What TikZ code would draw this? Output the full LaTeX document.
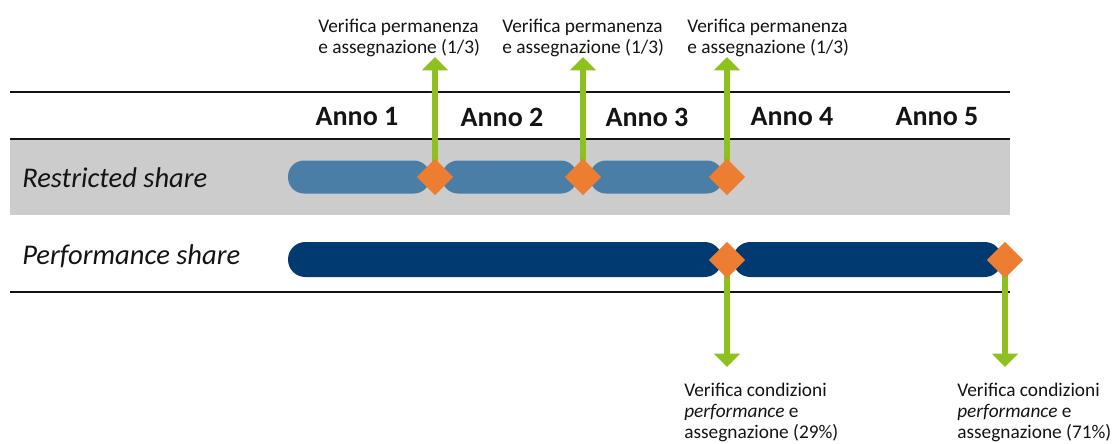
\documentclass[tikz,border=0pt]{standalone}
\usepackage{fontspec}
\setmainfont{Carlito}
\usetikzlibrary{shapes.geometric,arrows.meta}
\definecolor{bandgray}{RGB}{204,204,204}
\definecolor{rsblue}{RGB}{74,126,166}
\definecolor{psblue}{RGB}{0,58,112}
\definecolor{gateorange}{RGB}{237,125,49}
\definecolor{checkgreen}{RGB}{142,192,30}
\definecolor{inkgray}{RGB}{20,20,20}
\pgfdeclarelayer{band}
\pgfdeclarelayer{stem}
\pgfsetlayers{band,stem,main}
\tikzset{
  rbar/.style={fill=rsblue,rounded corners=12pt,minimum height=24.75pt,inner sep=0pt},
  pbar/.style={fill=psblue,rounded corners=13pt,minimum height=26.25pt,inner sep=0pt},
  gate/.style={shape=diamond,fill=gateorange,minimum width=27.5pt,minimum height=27.5pt,inner sep=0pt},
  checkarrow/.style={color=checkgreen,line width=5pt,-{Triangle[width=19pt,length=10pt]}},
  note/.style={align=left,anchor=base west,inner sep=0pt,text=inkgray,font=\fontsize{14.5}{15.5}\selectfont},
  year/.style={text=inkgray,font=\fontsize{21}{25}\selectfont\bfseries},
  rowlabel/.style={anchor=west,inner sep=0pt,text=inkgray,font=\fontsize{21.4}{25}\selectfont\itshape}
}
\begin{document}
\begin{tikzpicture}[x=0.75pt,y=-0.75pt]
\useasboundingbox (0,0) rectangle (1112,443);
% table
\begin{pgfonlayer}{band}
\fill[bandgray] (10,139) rectangle (1010,215);
\draw[inkgray,line width=1.3pt] (10,92) -- (1010,92) (10,139) -- (1010,139) (10,292) -- (1010,292);
\end{pgfonlayer}
\foreach \i in {1,...,5}
  \node[year](y\i) at (357+145*\i-145,117) {Anno \i};
\node[rowlabel](rlab) at (22,178) {Restricted share};
\node[rowlabel](plab) at (22,256) {Performance share};
% bars
\node[rbar,minimum width=106.5pt](r1) at (359,177) {};
\node[rbar,minimum width=101.25pt](r2) at (509.5,177) {};
\node[rbar,minimum width=99.75pt](r3) at (656.5,177) {};
\node[pbar,minimum width=325.5pt](p1) at (505,259.5) {};
\node[pbar,minimum width=201.75pt](p2) at (867.5,259.5) {};
% checks
\node[gate](g1) at (435,177) {};
\node[gate](g2) at (583,177) {};
\node[gate](g3) at (727,177) {};
\node[gate](g4) at (727,260) {};
\node[gate](g5) at (1005,260) {};
\coordinate (u1) at (435,57);
\coordinate (u2) at (583,57);
\coordinate (u3) at (727,57);
\coordinate (d4) at (727,367);
\coordinate (d5) at (1005,367);
\begin{pgfonlayer}{stem}
\draw[checkarrow] (g1.center) -- (u1);
\draw[checkarrow] (g2.center) -- (u2);
\draw[checkarrow] (g3.center) -- (u3);
\draw[checkarrow] (g4.center) -- (d4);
\draw[checkarrow] (g5.center) -- (d5);
\end{pgfonlayer}
% notes
\node[note](n1) at (318,53) {Verifica permanenza\\e assegnazione (1/3)};
\node[note](n2) at (502,53) {Verifica permanenza\\e assegnazione (1/3)};
\node[note](n3) at (687,53) {Verifica permanenza\\e assegnazione (1/3)};
\node[note](n4) at (684,438) {Verifica condizioni\\\textit{performance} e\\assegnazione (29\%)};
\node[note](n5) at (957,438) {Verifica condizioni\\\textit{performance} e\\assegnazione (71\%)};
\end{tikzpicture}
\end{document}
